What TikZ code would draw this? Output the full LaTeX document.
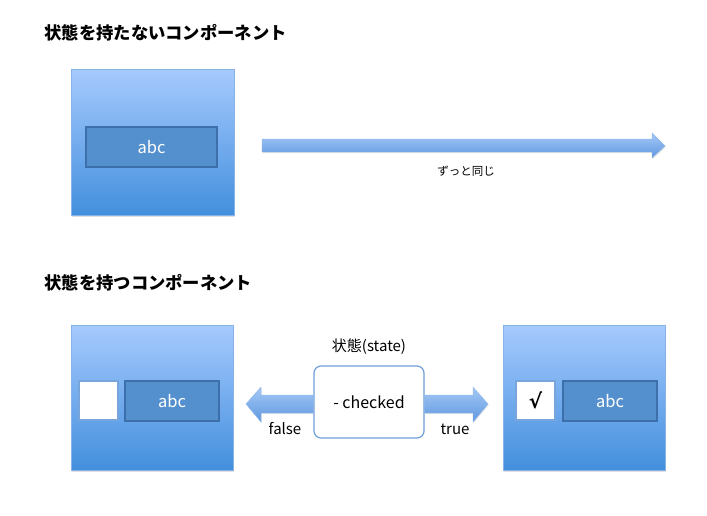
\documentclass[tikz,border=0pt]{standalone}
\usepackage{fontspec}
\setmainfont{Noto Sans CJK JP}
\newfontfamily\chkfont{DejaVu Sans}
\usetikzlibrary{shadows}
\definecolor{boxtop}{HTML}{A6CAFE}
\definecolor{boxbot}{HTML}{438FDD}
\definecolor{boxline}{HTML}{86B2E8}
\definecolor{innerfill}{HTML}{5590CE}
\definecolor{innerline}{HTML}{3D6FAA}
\definecolor{arrtop}{HTML}{A5C8F6}
\definecolor{arrbot}{HTML}{5F98E0}
\definecolor{stateline}{HTML}{6E9FDA}
\tikzset{
  comp/.style={draw=boxline, line width=0.8pt, top color=boxtop, bottom color=boxbot, drop shadow={shadow xshift=1pt, shadow yshift=-1.5pt, opacity=0.25}},
  field/.style={draw=innerline, line width=1.2pt, fill=innerfill, text=white, font=\fontsize{16.5}{16.5}\selectfont},
  check/.style={draw=boxline!80!innerline, line width=1.2pt, fill=white, font=\chkfont\fontsize{20}{20}\selectfont\bfseries},
  blockarrow/.style={draw=arrbot!70!white, line width=0.4pt, top color=arrtop, bottom color=arrbot, drop shadow={shadow xshift=0.8pt, shadow yshift=-1pt, opacity=0.2}},
  title/.style={anchor=west, font=\fontsize{17.3}{17.3}\selectfont\bfseries},
  lbl/.style={font=\fontsize{15}{15}\selectfont},
  statebox/.style={draw=stateline, line width=1.2pt, fill=white, rounded corners=7pt, font=\fontsize{16}{16}\selectfont}
}
\begin{document}
\begin{tikzpicture}[x=1pt,y=-1pt]
\useasboundingbox (0,0) rectangle (707,515);
% titles
\node[title] (t1) at (41,33) {状態を持たないコンポーネント};
\node[title] (t2) at (41,283) {状態を持つコンポーネント};
% component 1
\path[comp] (71,69) rectangle (234,215);
\node[field, minimum width=131pt, minimum height=40pt, inner sep=0pt] (f1) at (151.5,147) {abc};
% long arrow
\path[blockarrow] (262,139) -- (652,139) -- (652,133) -- (665,146) -- (652,158) -- (652,152) -- (262,152) -- cycle;
\node[font=\fontsize{11.5}{11.5}\selectfont] (same) at (466,171) {ずっと同じ};
% component 2
\path[comp] (71,325) rectangle (233,470);
\node[check, minimum width=39pt, minimum height=39pt, inner sep=0pt] (c2) at (98.5,400.5) {};
\node[field, minimum width=94pt, minimum height=40pt, inner sep=0pt] (f2) at (172,401) {abc};
% component 3
\path[comp] (503,325) rectangle (665,470);
\node[check, minimum width=39pt, minimum height=39pt, inner sep=0pt] (c3) at (535.5,400.5) {√};
\node[field, minimum width=94pt, minimum height=40pt, inner sep=0pt] (f3) at (610,401) {abc};
% state
\node[statebox, minimum width=110pt, minimum height=72pt, inner sep=0pt] (st) at (369,402) {- checked};
\node[lbl] (stl) at (369,347) {状態(state)};
% left arrow
\path[blockarrow] (st.west |- 0,395) -- (261,395) -- (261,387) -- (246,404) -- (261,422) -- (261,413) -- (st.west |- 0,413) -- cycle;
% right arrow
\path[blockarrow] (st.east |- 0,395) -- (473,395) -- (473,387) -- (488,404) -- (473,422) -- (473,413) -- (st.east |- 0,413) -- cycle;
\node[lbl] (fl) at (285,429) {false};
\node[lbl] (tr) at (455,429) {true};
\end{tikzpicture}
\end{document}
